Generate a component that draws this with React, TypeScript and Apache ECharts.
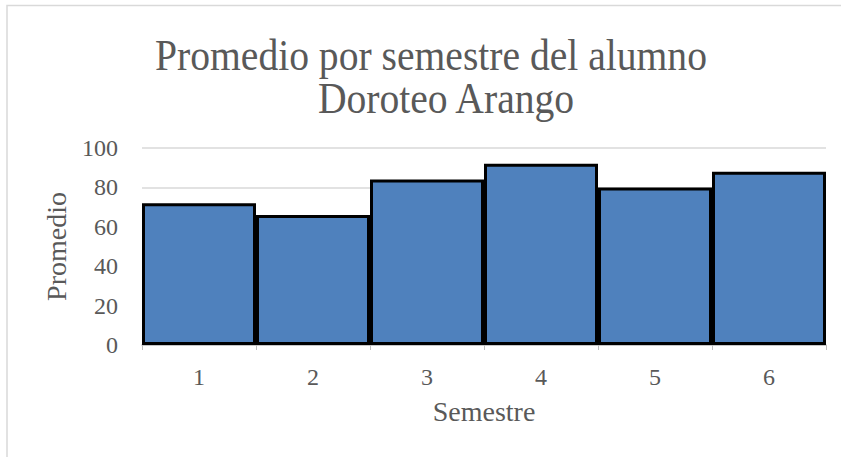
import React, { useEffect, useRef } from "react";
import * as echarts from "echarts";

const categories = ["1", "2", "3", "4", "5", "6"];
const promedios = [72, 66, 84, 92, 80, 88];
const yTicks = { min: 0, max: 100, interval: 20 };
const titleLines = ["Promedio por semestre del alumno", "Doroteo Arango"];
const xAxisName = "Semestre";
const yAxisName = "Promedio";

const FONT = "'Liberation Serif', 'Times New Roman', serif";
const TEXT = "#595959";

export default function App() {
  const ref = useRef<HTMLDivElement>(null);
  useEffect(() => {
    document.body.style.margin = "0";
    const chart = echarts.init(ref.current!, null, { renderer: "svg" });
    chart.setOption({
      animation: false,
      backgroundColor: "#ffffff",
      graphic: [
        {
          type: "rect",
          shape: { x: 7, y: 5.5, width: 860, height: 470 },
          style: { fill: "none", stroke: "#D9D9D9", lineWidth: 1.5 },
          silent: true,
        },
        {
          type: "text",
          x: 431,
          y: 55,
          scaleX: 0.88,
          style: {
            text: titleLines[0],
            font: `45px ${FONT}`,
            fill: TEXT,
            textAlign: "center",
            textVerticalAlign: "middle",
          },
        },
        {
          type: "text",
          x: 446,
          y: 98,
          scaleX: 0.88,
          style: {
            text: titleLines[1],
            font: `45px ${FONT}`,
            fill: TEXT,
            textAlign: "center",
            textVerticalAlign: "middle",
          },
        },
      ],
      grid: { left: 142, right: 15, top: 148, bottom: 112, containLabel: false },
      xAxis: {
        type: "category",
        data: categories,
        name: xAxisName,
        nameLocation: "middle",
        nameGap: 52,
        nameTextStyle: { fontFamily: FONT, fontSize: 28, color: TEXT },
        axisLine: { lineStyle: { color: "#BFBFBF", width: 1.5 } },
        axisTick: { show: true, length: 5, lineStyle: { color: "#BFBFBF", width: 1 } },
        axisLabel: { fontFamily: FONT, fontSize: 24, color: TEXT, margin: 20 },
      },
      yAxis: {
        type: "value",
        min: yTicks.min,
        max: yTicks.max,
        interval: yTicks.interval,
        name: yAxisName,
        nameLocation: "middle",
        nameGap: 72,
        nameTextStyle: { fontFamily: FONT, fontSize: 28, color: TEXT },
        axisLine: { show: false },
        axisTick: { show: false },
        splitLine: { lineStyle: { color: "#D9D9D9", width: 1.5 } },
        axisLabel: { fontFamily: FONT, fontSize: 24, color: TEXT, margin: 24 },
      },
      series: [
        {
          type: "bar",
          data: promedios,
          barCategoryGap: "0%",
          itemStyle: { color: "#4F81BD", borderColor: "#000000", borderWidth: 3 },
        },
      ],
    });
    return () => chart.dispose();
  }, []);
  return <div ref={ref} style={{ width: 841, height: 457 }} />;
}
